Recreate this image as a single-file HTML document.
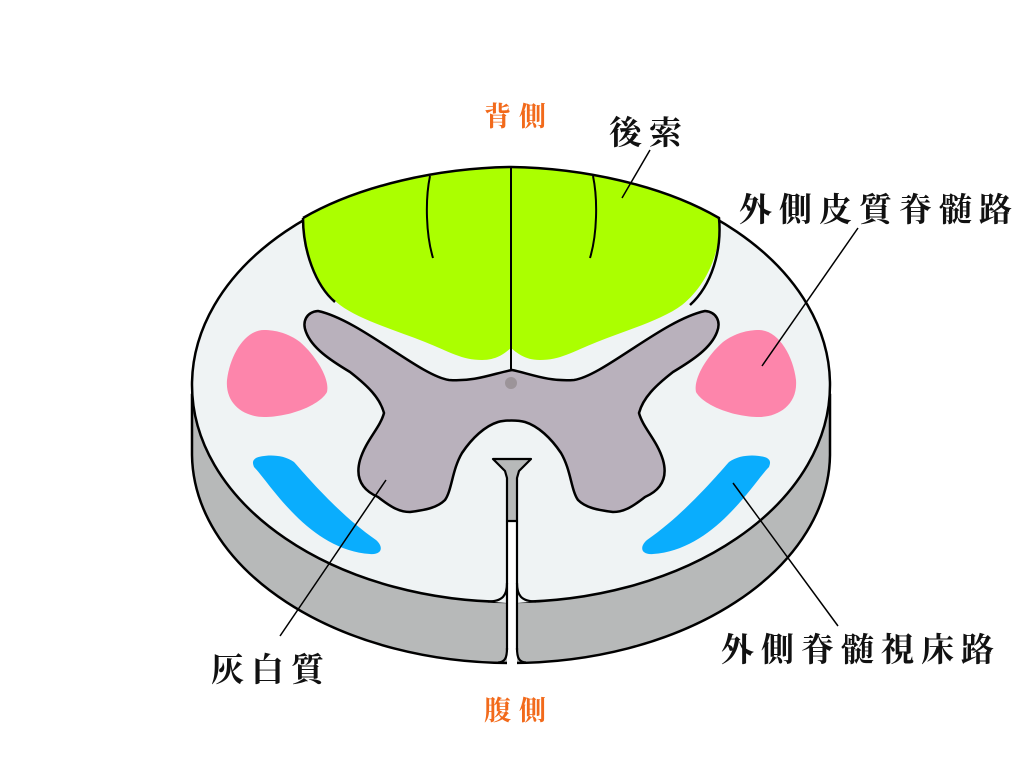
<!DOCTYPE html>
<html><head><meta charset="utf-8"><style>
html,body{margin:0;padding:0;background:#fff;}
svg{display:block}
.lab{font-family:"Liberation Serif","Noto Serif CJK JP","Noto Serif CJK SC",serif;font-weight:bold;}
</style></head><body>
<svg width="1024" height="768" viewBox="0 0 1024 768" xmlns="http://www.w3.org/2000/svg">
<path d="M192,395 L192,455 A319,210 0 0 0 511,663 A319,210 0 0 0 830,455 L830,395 Z" fill="#b7b9b9" stroke="#000" stroke-width="2.5"/>
<ellipse cx="511" cy="385" rx="319" ry="217" fill="#eff3f4" stroke="#000" stroke-width="2.5"/>
<!-- slit -->
<path d="M488,601.5 C503,601.5 507,595 507,585 L507,603 Z" fill="#eff3f4"/>
<path d="M536,601.5 C521,601.5 517,595 517,585 L517,603 Z" fill="#eff3f4"/>
<rect x="507" y="521" width="10" height="146" fill="#fff"/>
<line x1="507" y1="521" x2="507" y2="650" stroke="#000" stroke-width="2.2"/>
<line x1="517" y1="521" x2="517" y2="650" stroke="#000" stroke-width="2.2"/>
<path d="M507,648 C507,658 505,662 498,662.5" fill="none" stroke="#000" stroke-width="2.2"/>
<path d="M517,648 C517,658 519,662 526,662.5" fill="none" stroke="#000" stroke-width="2.2"/>
<path d="M488,601.5 C503,601.5 507,595 507,583" fill="none" stroke="#000" stroke-width="2.2"/>
<path d="M536,601.5 C521,601.5 517,595 517,583" fill="none" stroke="#000" stroke-width="2.2"/>
<path d="M493,459 L531,459 L519,471 L517,478 L517,521 L507,521 L507,478 L505,471 Z" fill="#b7b9b9" stroke="#000" stroke-width="2.2" stroke-linejoin="round"/>
<!-- green -->
<path d="M511,167 C440,168 360,185 303,218 C300,250 315,285 340,305 C360,320 395,330 425,342 C450,352 462,360 482,360 C498,360 506,352 511,348 C516,352 524,360 540,360 C560,360 572,352 597,342 C627,330 662,320 682,305 C707,285 722,250 719,218 C662,185 582,168 511,167 Z" fill="#abff00"/>
<path d="M303,218 C360,185 440,168 511,167 C582,168 662,185 719,218 C722,250 712,285 690,305" fill="none" stroke="#000" stroke-width="2.5"/>
<path d="M303,218 C303,250 315,285 335,302" fill="none" stroke="#000" stroke-width="2.5"/>
<line x1="511" y1="167" x2="511" y2="370" stroke="#000" stroke-width="2"/>
<path d="M430,176 C425,200 426,235 433,258" fill="none" stroke="#000" stroke-width="2"/>
<path d="M593,176 C598,200 597,235 590,258" fill="none" stroke="#000" stroke-width="2"/>
<!-- gray matter -->
<path d="M512,370 C495,373 475,382 449,380 C420,376 360,320 318,311 C306,312 302,322 306,332 C312,348 330,360 350,372 C368,386 380,398 384,413 C380,428 366,440 360,460 C355,478 362,490 378,497 C392,508 400,512 410,512 C425,510 437,508 445,500 C452,490 452,470 462,453 C472,438 485,426 498,422 C505,420 518,420 525,422 C538,426 551,438 561,453 C571,470 571,490 578,500 C586,508 598,510 613,512 C623,512 631,508 645,497 C661,490 668,478 663,460 C657,440 643,428 639,413 C643,398 655,386 673,372 C693,360 711,348 717,332 C721,322 717,312 705,311 C663,320 603,376 574,380 C548,382 528,373 512,370 Z" fill="#b9b1bc" stroke="#000" stroke-width="2.5" stroke-linejoin="round"/>
<circle cx="511" cy="383" r="6" fill="#9c9499"/>
<path d="M264,330 C245,330 230,355 227,380 C225,405 245,417 264,417 C290,417 320,405 327,392 C330,378 315,355 300,342 C288,333 275,330 264,330 Z" fill="#fd85ab"/>
<path d="M759,330 C778,330 793,355 796,380 C798,405 778,417 759,417 C733,417 703,405 696,392 C693,378 708,355 723,342 C735,333 748,330 759,330 Z" fill="#fd85ab"/>
<path d="M256,458 C262,455 282,453 294,462 C310,480 340,515 376,540 C384,547 382,555 370,554 C340,552 315,535 295,515 C275,495 262,475 254,467 C252,462 253,460 256,458 Z" fill="#0aadfd"/>
<path d="M767,458 C761,455 741,453 729,462 C713,480 683,515 647,540 C639,547 641,555 653,554 C683,552 708,535 728,515 C748,495 761,475 769,467 C771,462 770,460 767,458 Z" fill="#0aadfd"/>
<g stroke="#000" stroke-width="1.5">
<line x1="650" y1="150" x2="622" y2="198"/>
<line x1="858" y1="228" x2="762" y2="366"/>
<line x1="838" y1="626" x2="733" y2="483"/>
<line x1="386" y1="480" x2="280" y2="636"/>
</g>
<g class="lab" font-size="33" fill="#111">
<text x="609" y="144" letter-spacing="7">後索</text>
<text x="739" y="221" letter-spacing="7">外側皮質脊髄路</text>
<text x="721" y="661" letter-spacing="7">外側脊髄視床路</text>
<text x="211" y="681" letter-spacing="7">灰白質</text>
</g>
<g class="lab" font-size="27" fill="#f26a1b">
<text x="484" y="126" letter-spacing="8">背側</text>
<text x="484" y="720" letter-spacing="8">腹側</text>
</g>
</svg>
</body></html>
